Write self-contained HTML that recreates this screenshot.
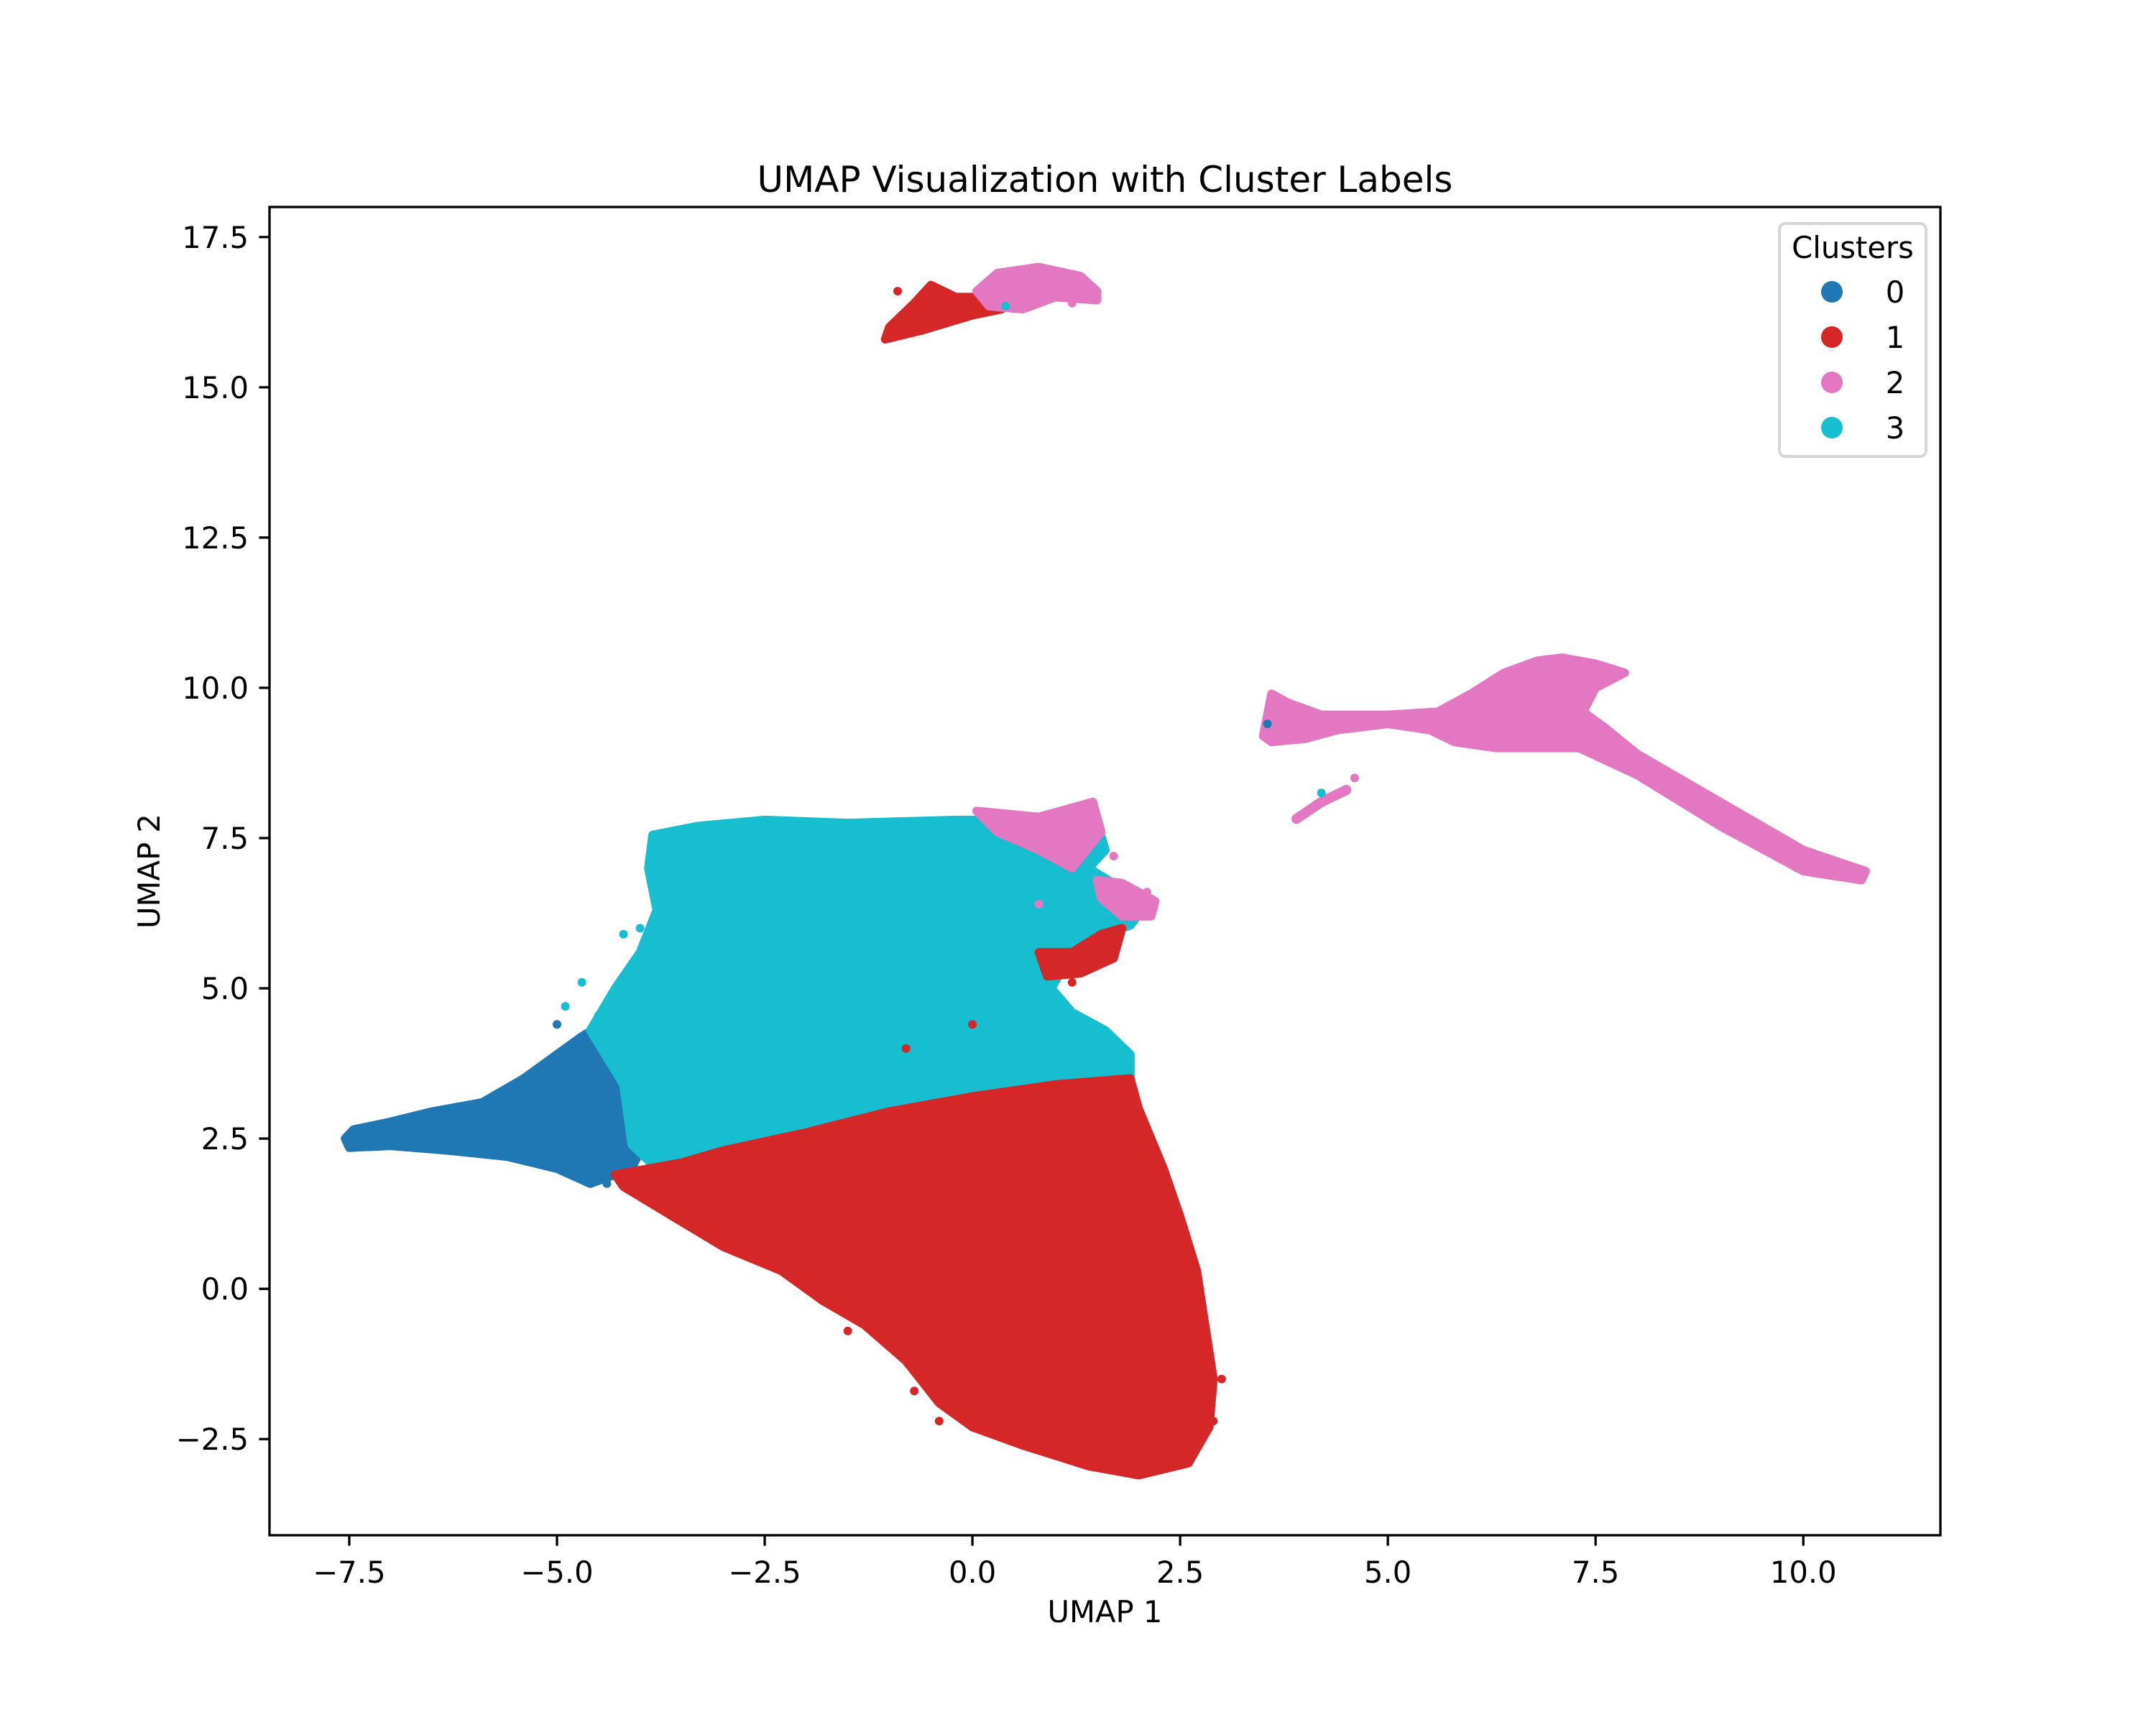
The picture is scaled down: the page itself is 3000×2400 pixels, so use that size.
<!DOCTYPE html>
<html>
<head>
<meta charset="utf-8">
<style>
html,body{margin:0;padding:0;background:#fff;}
svg{display:block;}
text{font-family:"DejaVu Sans","Liberation Sans",sans-serif;fill:#000;}
</style>
</head>
<body>
<svg id="chart" width="3000" height="2400" viewBox="0 0 3000 2400" xmlns="http://www.w3.org/2000/svg">
<rect x="0" y="0" width="3000" height="2400" fill="#fff"/>
<g id="marks"></g>
<g id="axes"></g>
<text x="1537.5" y="267" font-size="50" text-anchor="middle">UMAP Visualization with Cluster Labels</text>
<text x="1537.5" y="2257" font-size="41.7" text-anchor="middle">UMAP 1</text>
<text x="222" y="1212" font-size="41.7" text-anchor="middle" transform="rotate(-90 222 1212)">UMAP 2</text>
<g>
  <rect x="2476" y="311" width="204" height="324" rx="8" fill="#fff" fill-opacity="0.8" stroke="#d6d6d6" stroke-width="4"/>
  <text x="2578" y="359" font-size="41.7" text-anchor="middle">Clusters</text>
  <g id="legend-entries"></g>
</g>
</svg>
<script>
// ---- axis domain ----
const xDomain = [-8.46, 11.65];
const yDomain = [-4.1, 18.0];
const xTicks = [-7.5, -5.0, -2.5, 0.0, 2.5, 5.0, 7.5, 10.0];
const yTicks = [-2.5, 0.0, 2.5, 5.0, 7.5, 10.0, 12.5, 15.0, 17.5];
const clusterLabels = ["0", "1", "2", "3"];
const clusterColors = ["#1f77b4", "#d62728", "#e377c2", "#17becf"];

// ---- cluster regions (data coords) ----
const cluster0Region = [[-7.55,2.5],[-7.45,2.65],[-7.0,2.78],[-6.5,2.95],[-5.9,3.1],[-5.4,3.5],[-5.0,3.9],[-4.7,4.2],[-4.4,4.45],[-4.2,4.3],[-4.0,3.6],[-3.9,2.6],[-4.1,2.0],[-4.6,1.75],[-5.0,2.0],[-5.6,2.2],[-6.3,2.3],[-7.0,2.38],[-7.5,2.35]];
const cluster3Region = [[-3.85,7.55],[-3.3,7.7],[-2.5,7.8],[-1.5,7.75],[-0.2,7.8],[0.8,7.8],[1.3,7.8],[1.45,8.0],[1.6,7.3],[1.4,7.0],[2.1,6.4],[1.9,6.05],[1.6,5.9],[1.2,5.6],[0.95,5.0],[1.2,4.6],[1.6,4.3],[1.9,3.9],[1.9,3.5],[1.0,3.3],[0,3.15],[-1,2.9],[-2,2.5],[-3,2.2],[-3.8,2.0],[-4.1,2.4],[-4.2,3.4],[-4.6,4.3],[-4.3,5.0],[-4.0,5.6],[-3.8,6.3],[-3.9,7.0]];
const cluster1Region = [[-4.3,1.9],[-3.5,2.1],[-3,2.3],[-2,2.6],[-1,2.95],[0,3.2],[1,3.4],[1.9,3.5],[2.0,3.0],[2.3,2.0],[2.5,1.2],[2.7,0.3],[2.8,-0.6],[2.9,-1.5],[2.85,-2.3],[2.6,-2.9],[2.0,-3.1],[1.4,-2.95],[0.6,-2.6],[0,-2.3],[-0.4,-1.9],[-0.8,-1.2],[-1.3,-0.6],[-1.8,-0.2],[-2.3,0.3],[-3,0.7],[-3.6,1.2],[-4.2,1.7]];
const cluster1Patch = [[0.8,5.6],[1.2,5.6],[1.55,5.9],[1.8,6.0],[1.7,5.5],[1.3,5.25],[0.9,5.2]];
const cluster2MainRegion = [[0.05,7.95],[0.8,7.85],[1.45,8.1],[1.55,7.6],[1.2,7.0],[0.8,7.3],[0.3,7.6]];
const cluster2MainPatch = [[1.5,6.8],[1.8,6.75],[2.2,6.45],[2.15,6.2],[1.8,6.2],[1.55,6.5]];
const cluster1TopRegion = [[-1.05,15.8],[-0.6,15.95],[0,16.2],[0.35,16.3],[0.3,16.5],[-0.2,16.5],[-0.5,16.7],[-0.7,16.4],[-1.0,16.0]];
const cluster2TopRegion = [[0.05,16.6],[0.3,16.9],[0.8,17.0],[1.3,16.85],[1.5,16.6],[1.5,16.45],[1.0,16.5],[0.6,16.3],[0.2,16.35]];
const cluster2RightRegion = [[3.5,9.2],[3.6,9.9],[3.8,9.75],[4.2,9.55],[5.0,9.55],[5.6,9.6],[6.0,9.9],[6.4,10.25],[6.8,10.45],[7.1,10.5],[7.5,10.4],[7.85,10.25],[7.5,10.0],[7.35,9.6],[7.6,9.35],[8.0,8.9],[9.0,8.1],[10.0,7.3],[10.75,6.95],[10.7,6.8],[10.0,6.95],[9.0,7.7],[8.0,8.55],[7.3,9.0],[6.8,9.0],[6.3,9.0],[5.8,9.1],[5.5,9.3],[5.0,9.4],[4.4,9.3],[4.0,9.15],[3.6,9.1]];
const cluster2Fragment = [[3.9,7.82],[4.2,8.1],[4.5,8.3]];
const cluster0Outliers = [[-4.9,4.0],[-5.0,4.4],[-4.4,1.75],[3.55,9.4]];
const cluster3Outliers = [[-4.9,4.7],[-4.7,5.1],[-4.2,5.9],[-4.5,4.55],[-4.0,6.0],[4.2,8.25],[0.4,16.35],[1.9,3.8]];
const cluster1Outliers = [[-2.0,0.0],[-1.5,-0.7],[-0.7,-1.7],[-0.4,-2.2],[2.9,-2.2],[3.0,-1.5],[0.0,4.4],[-0.8,4.0],[1.2,5.1],[-0.9,16.6]];
const cluster2Outliers = [[1.7,7.2],[2.1,6.6],[0.8,6.4],[4.6,8.5],[1.2,16.4]];

const L = 375, R = 2700, T = 288, B = 2136;
function sx(v){ return L + (v - xDomain[0]) / (xDomain[1] - xDomain[0]) * (R - L); }
function sy(v){ return B - (v - yDomain[0]) / (yDomain[1] - yDomain[0]) * (B - T); }
const NS = "http://www.w3.org/2000/svg";
const marks = document.getElementById('marks');
const axes = document.getElementById('axes');

function region(pts, color, name){
  const p = document.createElementNS(NS, 'polygon');
  p.setAttribute('points', pts.map(d => sx(d[0]).toFixed(1) + ',' + sy(d[1]).toFixed(1)).join(' '));
  p.setAttribute('fill', color);
  p.setAttribute('stroke', color);
  p.setAttribute('stroke-width', '12');
  p.setAttribute('stroke-linejoin', 'round');
  
  
  marks.appendChild(p);
}
function strip(pts, color, name){
  const p = document.createElementNS(NS, 'polyline');
  p.setAttribute('points', pts.map(d => sx(d[0]).toFixed(1) + ',' + sy(d[1]).toFixed(1)).join(' '));
  p.setAttribute('fill', 'none');
  p.setAttribute('stroke', color);
  p.setAttribute('stroke-width', '14');
  p.setAttribute('stroke-linecap', 'round');
  p.setAttribute('stroke-linejoin', 'round');
  
  
  marks.appendChild(p);
}
function dots(pts, color, name){
  pts.forEach(d => {
    const c = document.createElementNS(NS, 'circle');
    c.setAttribute('cx', sx(d[0]).toFixed(1));
    c.setAttribute('cy', sy(d[1]).toFixed(1));
    c.setAttribute('r', '6');
    c.setAttribute('fill', color);
    
    
    marks.appendChild(c);
  });
}

region(cluster0Region, clusterColors[0], 'cluster-0-region');
region(cluster3Region, clusterColors[3], 'cluster-3-region');
region(cluster1Region, clusterColors[1], 'cluster-1-region');
region(cluster1Patch, clusterColors[1], 'cluster-1-patch');
region(cluster2MainRegion, clusterColors[2], 'cluster-2-main-region');
region(cluster2MainPatch, clusterColors[2], 'cluster-2-main-patch');
region(cluster1TopRegion, clusterColors[1], 'cluster-1-top-region');
region(cluster2TopRegion, clusterColors[2], 'cluster-2-top-region');
region(cluster2RightRegion, clusterColors[2], 'cluster-2-right-region');
strip(cluster2Fragment, clusterColors[2], 'cluster-2-fragment');
dots(cluster0Outliers, clusterColors[0], 'cluster-0-point');
dots(cluster3Outliers, clusterColors[3], 'cluster-3-point');
dots(cluster1Outliers, clusterColors[1], 'cluster-1-point');
dots(cluster2Outliers, clusterColors[2], 'cluster-2-point');

// frame
const frame = document.createElementNS(NS, 'rect');
frame.setAttribute('x', L); frame.setAttribute('y', T);
frame.setAttribute('width', R - L); frame.setAttribute('height', B - T);
frame.setAttribute('fill', 'none'); frame.setAttribute('stroke', '#000'); frame.setAttribute('stroke-width', '3.3');


axes.appendChild(frame);

function fmt(v){ return (v < 0 ? '\u2212' : '') + Math.abs(v).toFixed(1); }
xTicks.forEach(v => {
  const x = sx(v);
  const l = document.createElementNS(NS, 'line');
  l.setAttribute('x1', x); l.setAttribute('x2', x); l.setAttribute('y1', B); l.setAttribute('y2', B + 14.6);
  l.setAttribute('stroke', '#000'); l.setAttribute('stroke-width', '3.3');
  
  
  axes.appendChild(l);
  const t = document.createElementNS(NS, 'text');
  t.setAttribute('x', x); t.setAttribute('y', B + 66);
  t.setAttribute('font-size', '41.7'); t.setAttribute('text-anchor', 'middle');
  t.textContent = fmt(v);
  
  
  axes.appendChild(t);
});
yTicks.forEach(v => {
  const y = sy(v);
  const l = document.createElementNS(NS, 'line');
  l.setAttribute('x1', L - 14.6); l.setAttribute('x2', L); l.setAttribute('y1', y); l.setAttribute('y2', y);
  l.setAttribute('stroke', '#000'); l.setAttribute('stroke-width', '3.3');
  
  
  axes.appendChild(l);
  const t = document.createElementNS(NS, 'text');
  t.setAttribute('x', L - 29); t.setAttribute('y', y + 15);
  t.setAttribute('font-size', '41.7'); t.setAttribute('text-anchor', 'end');
  t.textContent = fmt(v);
  
  
  axes.appendChild(t);
});

const leg = document.getElementById('legend-entries');
clusterLabels.forEach((lab, i) => {
  const y = 406 + i * 63;
  const c = document.createElementNS(NS, 'circle');
  c.setAttribute('cx', 2549); c.setAttribute('cy', y); c.setAttribute('r', 15);
  c.setAttribute('fill', clusterColors[i]);
  
  
  leg.appendChild(c);
  const t = document.createElementNS(NS, 'text');
  t.setAttribute('x', 2637); t.setAttribute('y', y + 15);
  t.setAttribute('font-size', '41.7'); t.setAttribute('text-anchor', 'middle');
  t.textContent = lab;
  
  
  leg.appendChild(t);
});
</script>
</body>
</html>
